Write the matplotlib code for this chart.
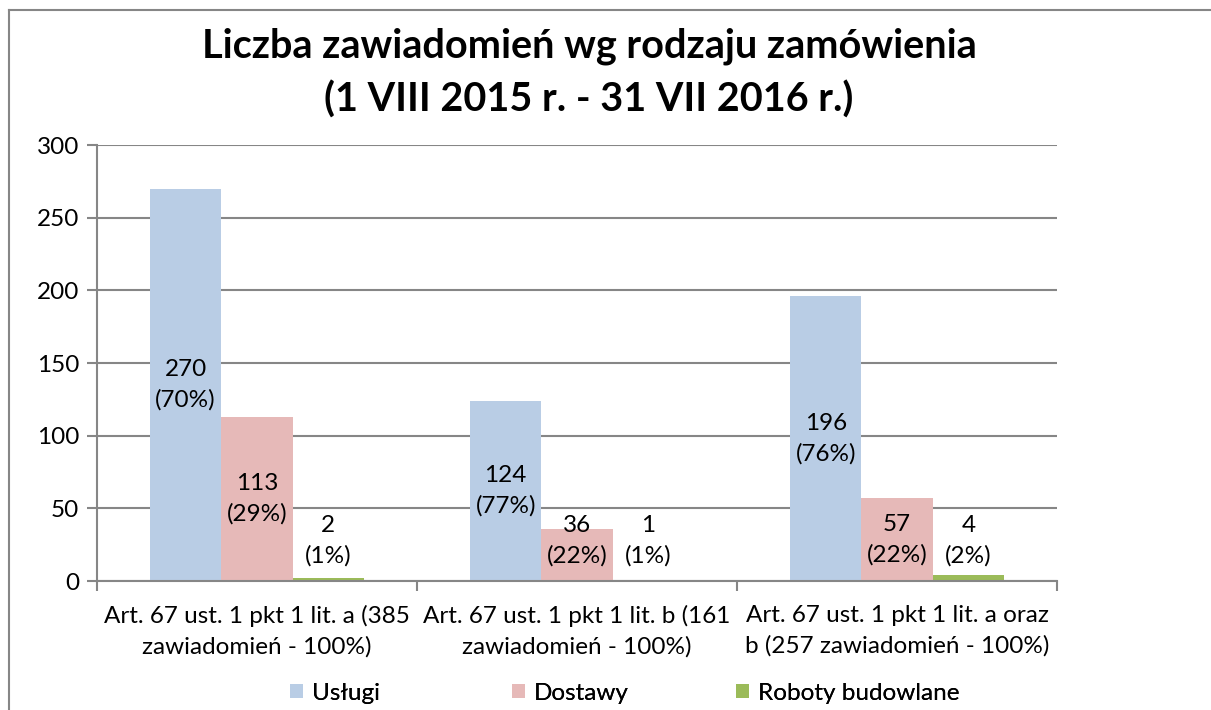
import matplotlib.pyplot as plt
import numpy as np
from matplotlib.lines import Line2D

categories = [
    "Art. 67 ust. 1 pkt 1 lit. a (385\nzawiadomień - 100%)",
    "Art. 67 ust. 1 pkt 1 lit. b (161\nzawiadomień - 100%)",
    "Art. 67 ust. 1 pkt 1 lit. a oraz\nb (257 zawiadomień - 100%)",
]
series_names = ["Usługi", "Dostawy", "Roboty budowlane"]
uslugi = [270, 124, 196]
dostawy = [113, 36, 57]
roboty = [2, 1, 4]
uslugi_pct = ["70%", "77%", "76%"]
dostawy_pct = ["29%", "22%", "22%"]
roboty_pct = ["1%", "1%", "2%"]

colors = ["#B9CDE5", "#E6B9B8", "#9BBB59"]

plt.rcParams['font.family'] = ['Lato', 'DejaVu Sans']

W, H = 1211, 710
fig = plt.figure(figsize=(W / 100, H / 100), dpi=100)
ax = fig.add_axes([97 / W, 1 - 581 / H, (1057 - 97) / W, (581 - 145) / H])

x = np.arange(len(categories))
bw = 0.223
all_vals = [uslugi, dostawy, roboty]
all_pct = [uslugi_pct, dostawy_pct, roboty_pct]
bars = []
for i, (vals, pcts) in enumerate(zip(all_vals, all_pct)):
    pos = x + (i - 1) * bw
    b = ax.bar(pos, vals, bw, color=colors[i], label=series_names[i], zorder=2)
    bars.append(b)
    for p, v, pc in zip(pos, vals, pcts):
        ax.text(p, max(v / 2, 27.5), f"{v}\n({pc})", ha='center', va='center',
                fontsize=17.5, linespacing=1.5, zorder=3)

ax.set_xlim(-0.5, 2.5)
ax.set_ylim(0, 300)
ax.set_yticks(range(0, 301, 50))
ax.yaxis.grid(True, color='#868686', linewidth=1.5, zorder=0)
ax.set_axisbelow(True)
ax.set_xticks(x)
ax.set_xticklabels(categories, fontsize=17.5, linespacing=1.55)
ax.tick_params(axis='x', length=0, pad=17)
ax.set_xticks([-0.5, 0.5, 1.5, 2.5], minor=True)
ax.tick_params(axis='x', which='minor', length=7, color='#868686', width=1.5)
ax.tick_params(axis='y', labelsize=17.5, length=7, color='#868686', width=1.5, pad=6)
for s in ['top', 'right']:
    ax.spines[s].set_visible(False)
for s in ['left', 'bottom']:
    ax.spines[s].set_color('#868686')
    ax.spines[s].set_linewidth(1.5)

fig.text(589 / W, 1 - 73 / H,
         "Liczba zawiadomień wg rodzaju zamówienia\n(1 VIII 2015 r. - 31 VII 2016 r.)",
         ha='center', va='center', fontsize=28.5, fontweight='bold', linespacing=1.5)

# legend entries placed one by one, equal column widths like Excel
leg_x = [290, 512, 736]
for i, lx in enumerate(leg_x):
    lg = fig.legend([bars[i]], [series_names[i]], loc='center left',
                    bbox_to_anchor=(lx / W, 1 - 693 / H), frameon=False, fontsize=17.5,
                    handlelength=0.55, handleheight=0.55, handletextpad=0.35,
                    borderpad=0, borderaxespad=0)
    fig.add_artist(lg)

fig.add_artist(Line2D([9 / W, 1], [1 - 10 / H, 1 - 10 / H], color='#868686', linewidth=1.5))
fig.add_artist(Line2D([9 / W, 9 / W], [0, 1 - 10 / H], color='#868686', linewidth=1.5))

fig.savefig('out.png', dpi=100)
